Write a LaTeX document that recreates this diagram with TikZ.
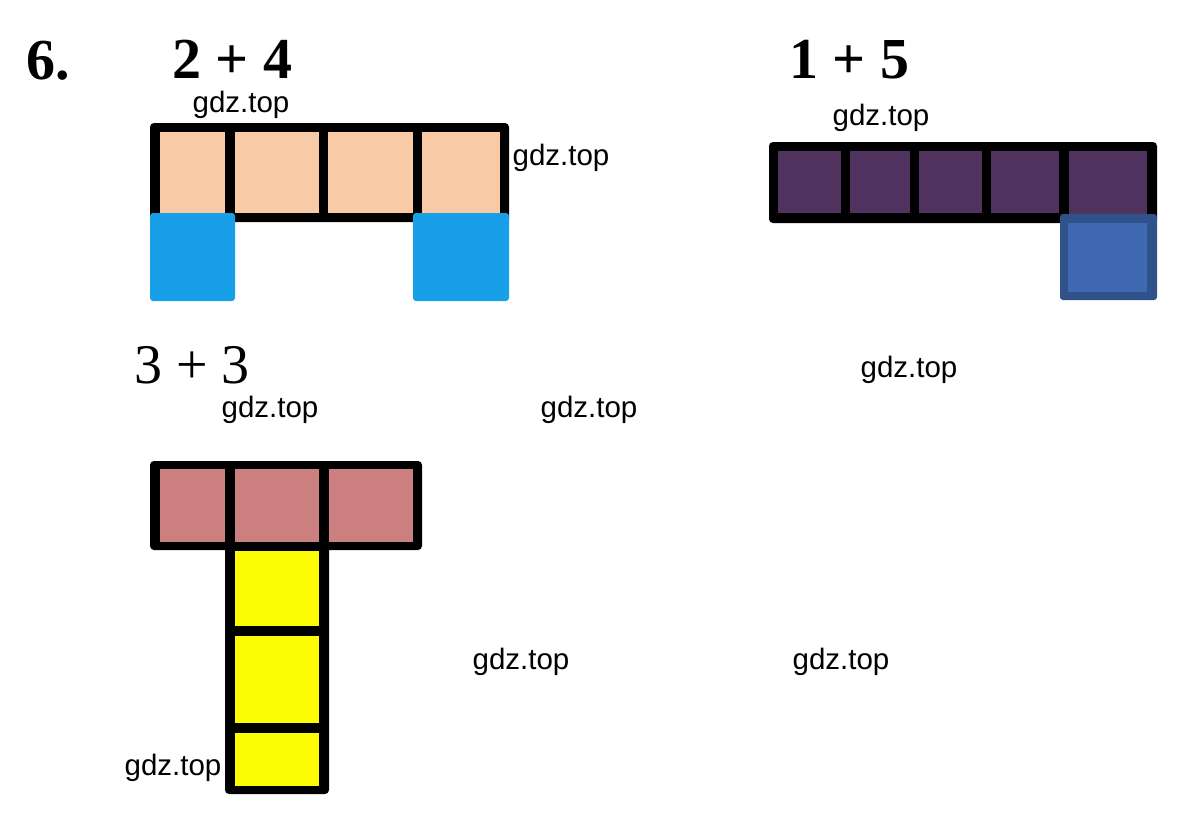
\documentclass[tikz,border=0pt]{standalone}
\usepackage{fontspec}
\setmainfont{Liberation Serif}
\newfontfamily\wmfont{Liberation Sans}
\definecolor{peach}{HTML}{F8CAA5}
\definecolor{skyblue}{HTML}{17A0E8}
\definecolor{plum}{HTML}{50325F}
\definecolor{dkblue}{HTML}{2E5289}
\definecolor{ltblue}{HTML}{3F69B1}
\definecolor{rose}{HTML}{CC7F7F}
\definecolor{lemon}{HTML}{FCFC05}
\tikzset{
  wm/.style={inner sep=0pt, font=\wmfont\fontsize{29.5}{32}\selectfont},
  boldtitle/.style={inner sep=0pt, text depth=0pt, anchor=base west, font=\bfseries\fontsize{58}{60}\selectfont},
  plaintitle/.style={inner sep=0pt, text depth=0pt, anchor=base west, font=\fontsize{56}{60}\selectfont},
  frame/.style={fill=black, rounded corners=4pt},
}
\begin{document}
\begin{tikzpicture}[x=1pt,y=-1pt]
\useasboundingbox[fill=white] (0,0) rectangle (1183,825);

% titles
\node[boldtitle] (n6) at (26,79) {6.};
\node[boldtitle] (t1) at (172,78) {2 + 4};
\node[boldtitle] (t2) at (789,78) {1 + 5};
\node[plaintitle] (t3) at (134,383) {3 + 3};

% figure 1: 2 + 4
\fill[frame] (150,123) rectangle (509,222);
\fill[peach] (160,132) rectangle (225,213);
\fill[peach] (235,132) rectangle (319,213);
\fill[peach] (328,132) rectangle (413,213);
\fill[peach] (422,132) rectangle (500,213);
\fill[skyblue, rounded corners=3pt] (150,213) rectangle (235,301);
\fill[skyblue, rounded corners=3pt] (413,213) rectangle (509,301);

% figure 2: 1 + 5
\fill[frame] (769,142) rectangle (1157,223);
\fill[plum] (778,151) rectangle (841,213);
\fill[plum] (850,151) rectangle (910,213);
\fill[plum] (919,151) rectangle (982,213);
\fill[plum] (991,151) rectangle (1059,213);
\fill[plum] (1069,151) rectangle (1147,214);
\fill[dkblue, rounded corners=3pt] (1060,214) rectangle (1157,300);
\fill[ltblue] (1068,223) rectangle (1147,292);

% figure 3: 3 + 3
\fill[frame] (150,461) rectangle (422,550);
\fill[frame] (225,540) rectangle (329,794);
\fill[rose] (160,469) rectangle (225,542);
\fill[rose] (235,469) rectangle (319,542);
\fill[rose] (329,469) rectangle (413,542);
\fill[lemon] (235,551) rectangle (319,626);
\fill[lemon] (235,636) rectangle (319,723);
\fill[lemon] (235,733) rectangle (319,786);

% watermarks
\node[wm] (w1) at (241,105) {gdz.top};
\node[wm] (w2) at (561,158) {gdz.top};
\node[wm] (w3) at (881,118) {gdz.top};
\node[wm] (w4) at (909,370) {gdz.top};
\node[wm] (w5) at (270,410) {gdz.top};
\node[wm] (w6) at (589,410) {gdz.top};
\node[wm] (w7) at (521,662) {gdz.top};
\node[wm] (w8) at (841,662) {gdz.top};
\node[wm] (w9) at (173,768) {gdz.top};
\end{tikzpicture}
\end{document}
